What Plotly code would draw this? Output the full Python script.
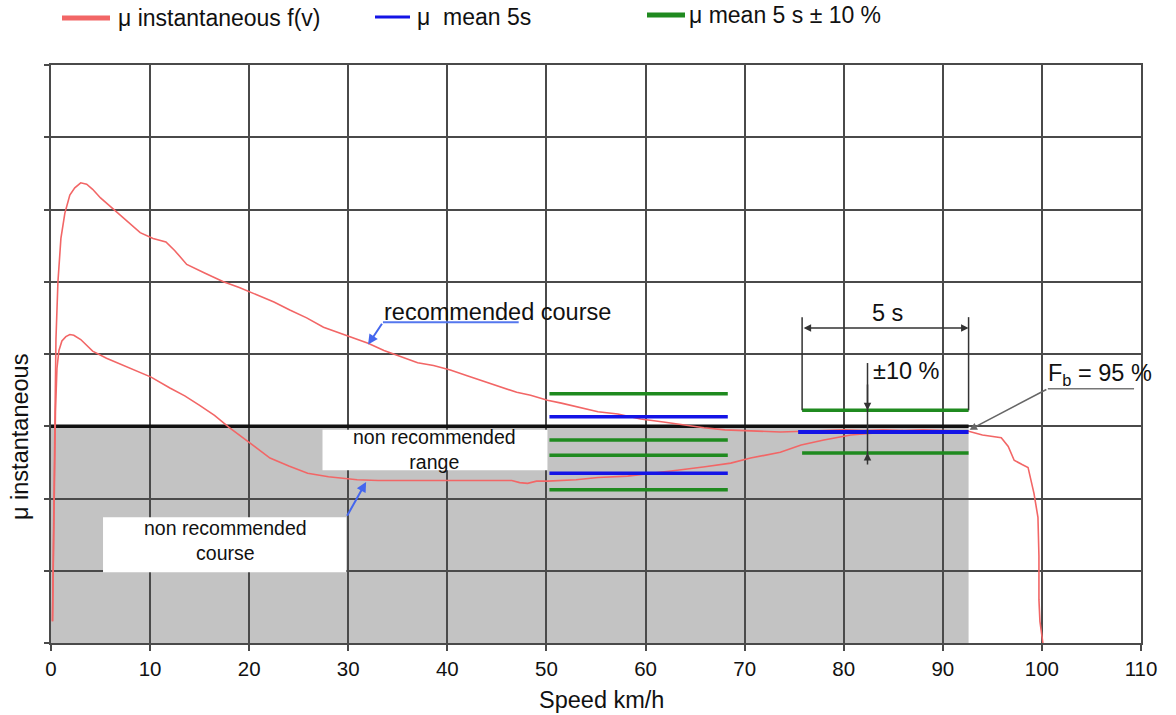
import plotly.graph_objects as go

# ---------------- data ----------------
upper_x = [0.15, 0.25, 0.35, 0.5, 0.7, 1.0, 1.4, 1.9, 2.4, 3.0, 3.6, 4.2, 5.0, 6.0, 7.0, 8.0, 9.0,
           10.3, 11.0, 11.6, 12.5, 13.7, 15.5, 17.4, 19.0, 20.8, 22.5, 24.1, 25.8, 27.5, 28.9, 30.5,
           32.0, 33.6, 35.3, 37.0, 38.6, 40.3, 42.0, 43.7, 45.4, 47.0, 48.4, 50.1, 51.5, 53.7, 55.2,
           57.2, 59.5, 61.8, 63.8, 65.9, 68.0, 70.0, 72.0, 73.6, 76.0, 78.0, 80.0, 82.0, 84.0, 86.0,
           88.0, 90.0, 92.6, 94.0, 95.9, 96.6, 97.2, 98.0, 98.6, 99.2, 99.6, 99.7, 99.7, 99.8, 100.1]
upper_y = [0.3, 1.5, 3.0, 4.2, 5.0, 5.6, 5.95, 6.2, 6.3, 6.37, 6.35, 6.28, 6.16, 6.04, 5.92, 5.8, 5.68,
           5.6, 5.57, 5.55, 5.43, 5.24, 5.12, 5.0, 4.92, 4.82, 4.72, 4.61, 4.5, 4.37, 4.3, 4.22,
           4.15, 4.05, 3.96, 3.88, 3.84, 3.78, 3.7, 3.62, 3.54, 3.47, 3.43, 3.36, 3.32, 3.25, 3.2,
           3.17, 3.1, 3.06, 3.02, 2.98, 2.95, 2.94, 2.93, 2.92, 2.93, 2.94, 2.95, 2.94, 2.95, 2.94,
           2.95, 2.94, 2.93, 2.88, 2.84, 2.72, 2.53, 2.47, 2.43, 2.07, 1.74, 1.2, 0.6, 0.3, 0.0]

lower_x = [0.15, 0.3, 0.45, 0.6, 0.8, 1.1, 1.5, 1.9, 2.3, 3.0, 4.2, 5.6, 7.0, 8.3, 10.1, 12.0, 13.5,
           15.0, 16.5, 18.0, 20.0, 22.1, 24.0, 25.9, 28.0, 30.9, 33.0, 36.0, 40.3, 44.0, 46.5, 47.3,
           48.1, 49.0, 50.1, 53.0, 55.2, 58.2, 61.0, 63.2, 66.0, 68.6, 70.6, 73.6, 75.7, 78.0, 80.7,
           84.0, 86.0]
lower_y = [0.3, 1.8, 3.2, 3.8, 4.05, 4.18, 4.24, 4.27, 4.26, 4.2, 4.04, 3.94, 3.86, 3.78, 3.68, 3.53, 3.42,
           3.29, 3.15, 2.98, 2.78, 2.56, 2.45, 2.35, 2.3, 2.26, 2.25, 2.25, 2.24, 2.24, 2.25, 2.22,
           2.21, 2.24, 2.24, 2.26, 2.29, 2.31, 2.35, 2.39, 2.44, 2.49, 2.56, 2.64, 2.74, 2.81, 2.88,
           2.92, 2.94]

# mean 5 s windows: [x start, x end]
win1_x = [50.3, 68.3]
win2_x = [75.8, 92.6]
mean1_levels = [3.13, 2.35]              # blue, first window
band1_levels = [3.45, 2.81, 2.60, 2.12]  # green, first window
mean2_levels = [2.92]                    # blue, second window
band2_levels = [3.22, 2.63]              # green, second window

shade_x = [0, 92.6]     # non recommended range
shade_y = [0, 3]

x_ticks = [0, 10, 20, 30, 40, 50, 60, 70, 80, 90, 100, 110]

FONT = "Liberation Sans, Arial, Helvetica, sans-serif"
RED = "#f26666"
BLUE = "#1414e6"
GREEN = "#1f8a1f"
GRID = "#4a4a4a"

PL, PR, PT, PB = 51, 1141, 65, 643   # plot area in window pixels

fig = go.Figure()

fig.add_trace(go.Scatter(x=upper_x, y=upper_y, mode="lines",
                         line=dict(color=RED, width=1.6), showlegend=False, hoverinfo="skip"))
fig.add_trace(go.Scatter(x=lower_x, y=lower_y, mode="lines",
                         line=dict(color=RED, width=1.6), showlegend=False, hoverinfo="skip"))

for lv in band1_levels:
    fig.add_trace(go.Scatter(x=win1_x, y=[lv, lv], mode="lines",
                             line=dict(color=GREEN, width=3.5), showlegend=False, hoverinfo="skip"))
for lv in mean1_levels:
    fig.add_trace(go.Scatter(x=win1_x, y=[lv, lv], mode="lines",
                             line=dict(color=BLUE, width=3.5), showlegend=False, hoverinfo="skip"))
for lv in band2_levels:
    fig.add_trace(go.Scatter(x=win2_x, y=[lv, lv], mode="lines",
                             line=dict(color=GREEN, width=3.5), showlegend=False, hoverinfo="skip"))
for lv in mean2_levels:
    fig.add_trace(go.Scatter(x=[win2_x[0] - 0.4, win2_x[1]], y=[lv, lv], mode="lines",
                             line=dict(color=BLUE, width=4), showlegend=False, hoverinfo="skip"))

shapes = []
shapes.append(dict(type="rect", xref="x", yref="y", x0=shade_x[0], x1=shade_x[1],
                   y0=shade_y[0], y1=shade_y[1], fillcolor="#c3c3c3", line=dict(width=0), layer="below"))
shapes.append(dict(type="line", xref="x", yref="y", x0=shade_x[0], x1=shade_x[1],
                   y0=shade_y[1], y1=shade_y[1], line=dict(color="#111111", width=3.5), layer="between"))

for xv in win2_x:
    shapes.append(dict(type="line", xref="x", yref="y", x0=xv, x1=xv, y0=band2_levels[0], y1=4.51,
                       line=dict(color="#333333", width=1.5)))
shapes.append(dict(type="line", xref="x", yref="y", x0=82.4, x1=82.4, y0=2.53, y1=3.875,
                   line=dict(color="#333333", width=1.5)))
shapes.append(dict(type="line", xref="x", yref="y", x0=100.6, x1=109.3, y0=3.52, y1=3.52,
                   line=dict(color="#777777", width=1.5)))
shapes.append(dict(type="line", xref="x", yref="y", x0=33.5, x1=47.2, y0=4.44, y1=4.44,
                   line=dict(color="#5577ee", width=2)))
shapes.append(dict(type="rect", xref="x", yref="y", x0=27.4, x1=50.1, y0=2.39, y1=2.95,
                   fillcolor="white", line=dict(width=0), layer="above"))
shapes.append(dict(type="rect", xref="x", yref="y", x0=5.25, x1=29.8, y0=0.98, y1=1.74,
                   fillcolor="white", line=dict(width=0), layer="above"))


def px2paper(px, py):
    return (px - PL) / float(PR - PL), (PB - py) / float(PB - PT)


legend_items = [
    ((62, 110, 18), RED, 5, 116, "\u03bc instantaneous f(v)"),
    ((375, 410, 17), BLUE, 3, 415, "\u03bc  mean 5s"),
    ((647, 685, 15), GREEN, 5, 687, "\u03bc mean 5 s \u00b1 10 %"),
]
annotations = []
for (x0p, x1p, yp), col, w, tx, label in legend_items:
    a0, b0 = px2paper(x0p, yp)
    a1, _ = px2paper(x1p, yp)
    shapes.append(dict(type="line", xref="paper", yref="paper", x0=a0, x1=a1, y0=b0, y1=b0,
                       line=dict(color=col, width=w)))
    ta, _ = px2paper(tx, yp)
    annotations.append(dict(xref="paper", yref="paper", x=ta, y=b0, xanchor="left", yanchor="middle",
                            text=label, showarrow=False, font=dict(size=23, color="#111111", family=FONT)))

tf = dict(size=23.5, color="#111111", family=FONT)
bf = dict(size=19.5, color="#111111", family=FONT)

ax_, ay_ = px2paper(601, 700)
annotations.append(dict(xref="paper", yref="paper", x=ax_, y=ay_, text="Speed km/h", showarrow=False,
                        font=tf, xanchor="center", yanchor="middle"))
bx_, by_ = px2paper(20, 437)
annotations.append(dict(xref="paper", yref="paper", x=bx_, y=by_, text="\u03bc instantaneous", showarrow=False,
                        textangle=-90, font=tf, xanchor="center", yanchor="middle"))

annotations += [
    dict(x=84.4, y=4.57, text="5 s", showarrow=False, font=tf, xanchor="center", yanchor="middle"),
    dict(x=86.3, y=3.76, text="\u00b110 %", showarrow=False, font=tf, xanchor="center", yanchor="middle"),
    dict(x=100.4, y=3.72, text="F<sub>b</sub> = 95 %", showarrow=False, font=tf, xanchor="left", yanchor="middle"),
    dict(x=33.4, y=4.58, text="recommended course", showarrow=False, font=tf, xanchor="left", yanchor="middle"),
    dict(x=38.7, y=2.68, text="non recommended<br>range", showarrow=False, font=bf,
         xanchor="center", yanchor="middle"),
    dict(x=17.6, y=1.42, text="non recommended<br>course", showarrow=False, font=bf,
         xanchor="center", yanchor="middle"),
    dict(x=win2_x[1], y=4.36, ax=win2_x[0], ay=4.36, xref="x", yref="y", axref="x", ayref="y",
         text="", showarrow=True, arrowhead=2, arrowside="end+start", arrowsize=1, arrowwidth=1.5,
         arrowcolor="#333333"),
    dict(x=82.4, y=band2_levels[0], ax=82.4, ay=3.6, xref="x", yref="y", axref="x", ayref="y",
         text="", showarrow=True, arrowhead=2, arrowsize=1, arrowwidth=1.5, arrowcolor="#333333"),
    dict(x=82.4, y=band2_levels[1], ax=82.4, ay=2.45, xref="x", yref="y", axref="x", ayref="y",
         text="", showarrow=True, arrowhead=2, arrowsize=1, arrowwidth=1.5, arrowcolor="#333333"),
    dict(x=92.7, y=2.95, ax=100.6, ay=3.52, xref="x", yref="y", axref="x", ayref="y",
         text="", showarrow=True, arrowhead=2, arrowsize=1, arrowwidth=1.5, arrowcolor="#666666"),
    dict(x=32.0, y=4.13, ax=33.5, ay=4.44, xref="x", yref="y", axref="x", ayref="y",
         text="", showarrow=True, arrowhead=2, arrowsize=1, arrowwidth=2, arrowcolor="#4466ee"),
    dict(x=31.8, y=2.23, ax=29.8, ay=1.74, xref="x", yref="y", axref="x", ayref="y",
         text="", showarrow=True, arrowhead=2, arrowsize=1, arrowwidth=2, arrowcolor="#4466ee"),
]

W, H = 1176, 715
fig.update_layout(
    width=W, height=H,
    margin=dict(l=PL, r=W - PR, t=PT, b=H - PB, autoexpand=False),
    paper_bgcolor="white", plot_bgcolor="white",
    showlegend=False,
    shapes=shapes, annotations=annotations,
    font=dict(family=FONT, color="#111111"),
)
fig.update_xaxes(range=[0, 110], tickvals=x_ticks, ticktext=[str(v) for v in x_ticks],
                 showgrid=True, gridcolor=GRID, gridwidth=2, zeroline=False,
                 showline=True, linecolor=GRID, linewidth=2, mirror=True,
                 ticks="outside", ticklen=6, tickwidth=2, tickcolor=GRID,
                 tickfont=dict(size=20.5, color="#111111", family=FONT))
fig.update_yaxes(range=[0, 8], dtick=1, showticklabels=False,
                 showgrid=True, gridcolor=GRID, gridwidth=2, zeroline=False,
                 showline=True, linecolor=GRID, linewidth=2, mirror=True,
                 ticks="outside", ticklen=5, tickwidth=2, tickcolor=GRID)

fig.write_html("out.html", config={"displayModeBar": False},
               post_script="document.body.style.margin='0px';document.body.style.overflow='hidden';")
